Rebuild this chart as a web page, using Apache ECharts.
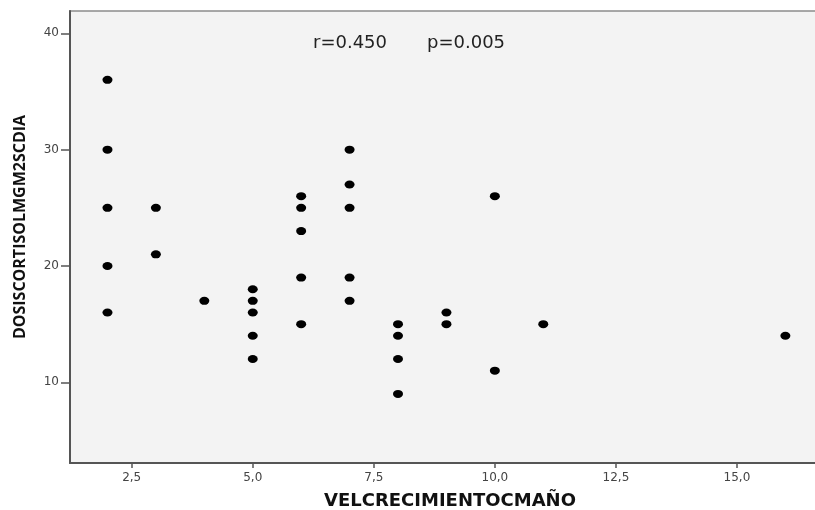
<!DOCTYPE html>
<html>
<head>
<meta charset="utf-8">
<script src="https://cdn.jsdelivr.net/npm/echarts@6/dist/echarts.min.js"></script>
<style>
  html, body { margin: 0; padding: 0; background: #fff; }
  #chart { width: 815px; height: 510px; }
</style>
</head>
<body>
<div id="chart"></div>
<script>
// growth velocity (cm/year) vs cortisol dose (mg/m2/day)
const velCrecimiento = [2, 2, 2, 2, 2, 3, 3, 4, 5, 5, 5, 5, 5, 6, 6, 6, 6, 6, 7, 7, 7, 7, 7, 8, 8, 8, 8, 9, 9, 10, 10, 11, 16];
const dosisCortisol = [36, 30, 25, 20, 16, 25, 21, 17, 18, 17, 16, 14, 12, 26, 25, 23, 19, 15, 30, 27, 25, 19, 17, 15, 14, 12, 9, 16, 15, 26, 11, 15, 14];

const xTicks = [2.5, 5, 7.5, 10, 12.5, 15];
const yTicks = [10, 20, 30, 40];

const rText = 'r=0.450';
const pText = 'p=0.005';

const points = velCrecimiento.map((v, i) => [v, dosisCortisol[i]]);

const chart = echarts.init(document.getElementById('chart'));

const option = {
  animation: false,
  backgroundColor: '#ffffff',
  grid: {
    left: 70,
    width: 750,
    top: 11,
    bottom: 47,
    outerBoundsMode: 'none',
    containLabel: false,
    show: true,
    backgroundColor: '#f3f3f3',
    borderColor: '#8c8c8c',
    borderWidth: 1.5
  },
  xAxis: {
    type: 'value',
    min: 1.226,
    max: 16.715,
    name: 'VELCRECIMIENTOCMAÑO',
    nameLocation: 'middle',
    nameGap: 29,
    nameTextStyle: {
      fontFamily: 'DejaVu Sans',
      fontWeight: 'bold',
      fontSize: 18,
      color: '#111',
      padding: [0, 0, 0, 10]
    },
    splitLine: { show: false },
    axisLine: { lineStyle: { color: '#555', width: 2 } },
    axisTick: {
      customValues: xTicks,
      length: 5,
      lineStyle: { color: '#555', width: 1.5 }
    },
    axisLabel: {
      customValues: xTicks,
      margin: 9,
      fontFamily: 'DejaVu Sans',
      fontSize: 12,
      color: '#444',
      formatter: v => v.toFixed(1).replace('.', ',')
    }
  },
  yAxis: {
    type: 'value',
    min: 3.063,
    max: 41.917,
    name: 'DOSISCORTISOLMGM2SCDIA',
    nameLocation: 'middle',
    nameGap: 42,
    nameTextStyle: {
      fontFamily: 'Open Sans',
      fontWeight: 'bold',
      fontSize: 16,
      color: '#111',
      padding: [0, 0, 0, 20]
    },
    splitLine: { show: false },
    axisLine: { show: true, lineStyle: { color: '#555', width: 2 } },
    axisTick: {
      show: true,
      customValues: yTicks,
      length: 9,
      lineStyle: { color: '#555', width: 1.5 }
    },
    axisLabel: {
      customValues: yTicks,
      margin: 11,
      fontFamily: 'DejaVu Sans',
      fontSize: 12,
      color: '#444'
    }
  },
  graphic: [
    {
      type: 'text',
      left: 313,
      top: 34,
      style: { text: rText, font: '18px "DejaVu Sans"', fill: '#222' }
    },
    {
      type: 'text',
      left: 427,
      top: 34,
      style: { text: pText, font: '18px "DejaVu Sans"', fill: '#222' }
    }
  ],
  series: [{
    type: 'scatter',
    data: points,
    symbol: 'circle',
    symbolSize: [10, 8],
    itemStyle: { color: '#000', opacity: 1 }
  }]
};

chart.setOption(option);
</script>
</body>
</html>
